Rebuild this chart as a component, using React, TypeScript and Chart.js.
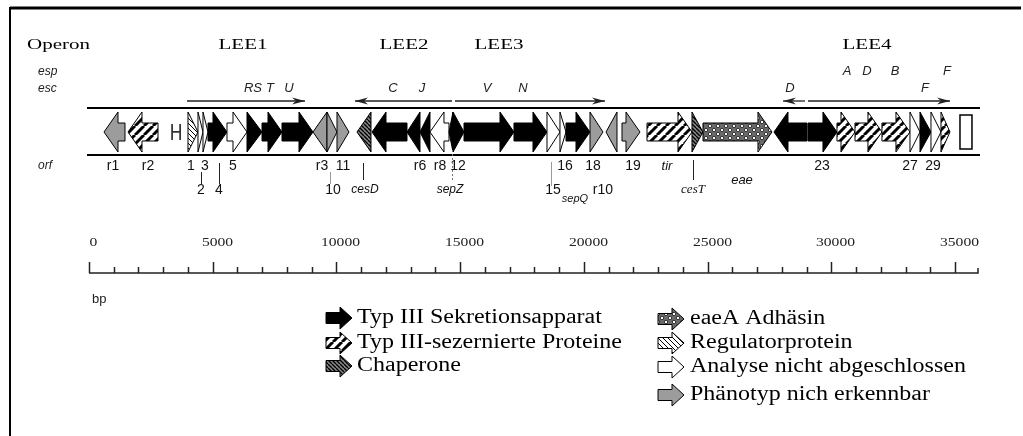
import React, { useEffect, useRef } from "react";
import { Chart, registerables } from "chart.js";
Chart.register(...registerables);

const W = 1023;
const H = 436;
const X_MIN = -3597;
const X_MAX = 37748;

// genes (bp)
const geneStart = [606, 1576, 4001, 4405, 4607, 4809, 5577, 6386, 6992, 7800, 9053, 9619, 10023, 10831, 11437, 12852, 13377, 13781, 14549, 14711, 15156, 17176, 18510, 19035, 19278, 20248, 20895, 21541, 22552, 24370, 24815, 27684, 29059, 30230, 30958, 32048, 33180, 33585, 34029, 34434, 35201];
const geneEnd = [1455, 2789, 4405, 4607, 4809, 5577, 6386, 6992, 7800, 9053, 9619, 10023, 10508, 11397, 12852, 13377, 13781, 14549, 14711, 15156, 17176, 18510, 19035, 19278, 20248, 20773, 21339, 22269, 24370, 24815, 27603, 29018, 30230, 30958, 32048, 33180, 33585, 34029, 34434, 34797, 35686];
const geneDir = [-1, -1, 1, 1, 1, 1, 1, 1, 1, 1, -1, 1, 1, -1, -1, -1, -1, -1, -1, 1, 1, 1, 1, 1, 1, 1, -1, 1, 1, 1, 1, -1, 1, 1, 1, 1, 1, 1, 1, 1, 0];
const geneKind = ["grey", "sec", "reg", "open", "open", "tx", "open", "tx", "tx", "tx", "grey", "grey", "grey", "chap", "tx", "tx", "tx", "open", "tx", "tx", "tx", "tx", "open", "open", "tx", "grey", "grey", "grey", "sec", "chap", "eae", "tx", "tx", "sec", "sec", "sec", "open", "tx", "open", "sec", "box"];

const hMarkPos = 3516;
const mapLineStart = -81;
const mapLineEnd = 36010;

// operons
const operonNames = ["LEE1", "LEE2", "LEE3", "LEE4"];
const operonCenter = [6224, 12731, 16570, 31443];
const operonArrowStart = [3961, 10750, 14792, 28048, 29059];
const operonArrowEnd = [8730, 14671, 20854, 28937, 34797];
const operonArrowDir = [1, -1, 1, -1, 1];

// gene name labels
const espLabels = ["A", "D", "B", "F"];
const espPos = [30634, 31443, 32574, 34676];
const escLabels = ["RS", "T", "U", "C", "J", "V", "N", "D", "F"];
const escPos = [6628, 7315, 8083, 12286, 13458, 16085, 17540, 28331, 33787];
const orfLabels = ["r1", "r2", "1", "3", "5", "r3", "11", "r6", "r8", "12", "16", "18", "19", "tir", "23", "27", "29"];
const orfPos = [970, 2384, 4122, 4688, 5820, 9417, 10265, 13377, 14186, 14913, 19238, 20369, 21986, 23360, 29624, 33181, 34110];
const orf2Labels = ["2", "4", "10", "cesD", "sepZ", "15", "sepQ", "r10", "cesT", "eae"];
const orf2Pos = [4526, 5254, 9861, 11155, 14590, 18753, 19642, 20773, 24411, 26391];
const leaderPos = [4526, 5254, 9740, 11074, 14671, 18672, 24411];

// ruler
const rulerMajor = [0, 5000, 10000, 15000, 20000, 25000, 30000, 35000];
const rulerMinor = [1000, 2000, 3000, 4000, 6000, 7000, 8000, 9000, 11000, 12000, 13000, 14000, 16000, 17000, 18000, 19000, 21000, 22000, 23000, 24000, 26000, 27000, 28000, 29000, 31000, 32000, 33000, 34000];
const rulerEnd = 35930;

// legend
const legendLeft = ["Typ III Sekretionsapparat", "Typ III-sezernierte Proteine", "Chaperone"];
const legendLeftKind = ["tx", "sec", "chap"];
const legendRight = ["eaeA Adhäsin", "Regulatorprotein", "Analyse nicht abgeschlossen", "Phänotyp nich erkennbar"];
const legendRightKind = ["eae", "reg", "open", "grey"];

function makePatterns() {
  const mk = (size: number, draw: (c: CanvasRenderingContext2D) => void) => {
    const cv = document.createElement("canvas");
    cv.width = size;
    cv.height = size;
    const c = cv.getContext("2d")!;
    draw(c);
    return c.createPattern(cv, "repeat")!;
  };
  const sec = mk(9, (c) => {
    c.fillStyle = "#fff";
    c.fillRect(0, 0, 9, 9);
    c.strokeStyle = "#000";
    c.lineWidth = 3;
    for (const k of [-9, 0, 9]) {
      c.beginPath();
      c.moveTo(k, 9);
      c.lineTo(k + 9, 0);
      c.stroke();
    }
  });
  const chap = mk(4, (c) => {
    c.fillStyle = "#8a8a8a";
    c.fillRect(0, 0, 4, 4);
    c.strokeStyle = "#000";
    c.lineWidth = 1.4;
    for (const k of [-4, 0, 4]) {
      c.beginPath();
      c.moveTo(k, 0);
      c.lineTo(k + 4, 4);
      c.stroke();
    }
  });
  const reg = mk(5, (c) => {
    c.fillStyle = "#fff";
    c.fillRect(0, 0, 5, 5);
    c.strokeStyle = "#000";
    c.lineWidth = 1;
    for (const k of [-5, 0, 5]) {
      c.beginPath();
      c.moveTo(k, 0);
      c.lineTo(k + 5, 5);
      c.stroke();
    }
  });
  const eae = mk(8, (c) => {
    c.fillStyle = "#6a6a6a";
    c.fillRect(0, 0, 8, 8);
    c.fillStyle = "#fff";
    c.strokeStyle = "#111";
    c.lineWidth = 0.8;
    for (const [px, py] of [[2, 2], [6, 6]]) {
      c.beginPath();
      c.arc(px, py, 1.7, 0, Math.PI * 2);
      c.fill();
      c.stroke();
    }
  });
  return { sec, chap, reg, eae };
}

function fillFor(kind: string, pats: any) {
  switch (kind) {
    case "tx": return "#000";
    case "open": return "#fff";
    case "grey": return "#9c9c9c";
    case "sec": return pats.sec;
    case "chap": return pats.chap;
    case "reg": return pats.reg;
    case "eae": return pats.eae;
    default: return "#fff";
  }
}

function drawArrowShape(ctx: CanvasRenderingContext2D, x0: number, x1: number, yc: number, dir: number, hh: number, bh: number, hl: number, fill: any) {
  const L = x1 - x0;
  ctx.beginPath();
  if (L <= hl + 3) {
    if (dir > 0) {
      ctx.moveTo(x0, yc - hh / 2);
      ctx.lineTo(x1, yc);
      ctx.lineTo(x0, yc + hh / 2);
    } else {
      ctx.moveTo(x1, yc - hh / 2);
      ctx.lineTo(x0, yc);
      ctx.lineTo(x1, yc + hh / 2);
    }
  } else if (dir > 0) {
    const xb = x1 - hl;
    ctx.moveTo(x0, yc - bh / 2);
    ctx.lineTo(xb, yc - bh / 2);
    ctx.lineTo(xb, yc - hh / 2);
    ctx.lineTo(x1, yc);
    ctx.lineTo(xb, yc + hh / 2);
    ctx.lineTo(xb, yc + bh / 2);
    ctx.lineTo(x0, yc + bh / 2);
  } else {
    const xb = x0 + hl;
    ctx.moveTo(x1, yc - bh / 2);
    ctx.lineTo(xb, yc - bh / 2);
    ctx.lineTo(xb, yc - hh / 2);
    ctx.lineTo(x0, yc);
    ctx.lineTo(xb, yc + hh / 2);
    ctx.lineTo(xb, yc + bh / 2);
    ctx.lineTo(x1, yc + bh / 2);
  }
  ctx.closePath();
  ctx.fillStyle = fill;
  ctx.fill();
  ctx.strokeStyle = "#000";
  ctx.lineWidth = 1;
  ctx.lineJoin = "miter";
  ctx.stroke();
}

function txt(ctx: CanvasRenderingContext2D, s: string, x: number, y: number, font: string, align: CanvasTextAlign = "center", sx = 1, color = "#111") {
  ctx.save();
  ctx.font = font;
  ctx.fillStyle = color;
  ctx.textBaseline = "middle";
  ctx.textAlign = align;
  ctx.translate(x, y);
  ctx.scale(sx, 1);
  ctx.fillText(s, 0, 0);
  ctx.restore();
}

export default function App() {
  const ref = useRef<HTMLCanvasElement>(null);
  useEffect(() => {
    const canvas = ref.current!;
    const pats = makePatterns();
    const plugin = {
      id: "genemap",
      beforeDraw(chart: any) {
        const ctx = chart.ctx;
        ctx.save();
        ctx.fillStyle = "#fff";
        ctx.fillRect(0, 0, chart.width, chart.height);
        ctx.restore();
      },
      afterDatasetsDraw(chart: any) {
        const ctx: CanvasRenderingContext2D = chart.ctx;
        const xs = chart.scales.x;
        ctx.save();
        ctx.strokeStyle = "#000";
        ctx.lineWidth = 2;
        const lx0 = xs.getPixelForValue(mapLineStart);
        const lx1 = xs.getPixelForValue(mapLineEnd);
        for (const yy of [108, 155]) {
          ctx.beginPath();
          ctx.moveTo(lx0, yy);
          ctx.lineTo(lx1, yy);
          ctx.stroke();
        }
        const meta = chart.getDatasetMeta(0);
        meta.data.forEach((el: any, i: number) => {
          const p = el.getProps(["x", "base", "y", "height"], true);
          const x0 = Math.min(p.x, p.base);
          const x1 = Math.max(p.x, p.base);
          const kind = geneKind[i];
          if (kind === "box") {
            ctx.fillStyle = "#fff";
            ctx.fillRect(x0, p.y - 17, x1 - x0, 34);
            ctx.strokeStyle = "#000";
            ctx.lineWidth = 1.5;
            ctx.strokeRect(x0, p.y - 17, x1 - x0, 34);
            return;
          }
          drawArrowShape(ctx, x0, x1, p.y, geneDir[i], p.height, 18, 14, fillFor(kind, pats));
        });
        txt(ctx, "H", xs.getPixelForValue(hMarkPos), 134, "22px 'DejaVu Sans'", "center", 0.8, "#333");
        ctx.restore();
      },
      afterDraw(chart: any) {
        const ctx: CanvasRenderingContext2D = chart.ctx;
        const xs = chart.scales.x;
        const px = (v: number) => xs.getPixelForValue(v);
        ctx.save();
        ctx.strokeStyle = "#000";
        ctx.lineWidth = 3;
        ctx.beginPath();
        ctx.moveTo(10, 8);
        ctx.lineTo(1021, 8);
        ctx.stroke();
        ctx.lineWidth = 2;
        ctx.beginPath();
        ctx.moveTo(10, 7);
        ctx.lineTo(10, H);
        ctx.stroke();

        const serifTitle = "15px 'Liberation Serif'";
        txt(ctx, "Operon", 27, 45, serifTitle, "left", 1.4, "#000");
        operonNames.forEach((n, i) => txt(ctx, n, px(operonCenter[i]), 45, serifTitle, "center", 1.4, "#000"));

        const it = "italic 12px 'Liberation Sans'";
        txt(ctx, "esp", 38, 72, it, "left", 1, "#222");
        txt(ctx, "esc", 38, 89, it, "left", 1, "#222");
        txt(ctx, "orf", 38, 166, it, "left", 1, "#222");

        espLabels.forEach((s, i) => txt(ctx, s, px(espPos[i]), 71, "italic 13px 'Liberation Sans'", "center", 1, "#222"));
        escLabels.forEach((s, i) => txt(ctx, s, px(escPos[i]), 88, "italic 13px 'Liberation Sans'", "center", 1, "#222"));

        ctx.strokeStyle = "#222";
        ctx.fillStyle = "#222";
        ctx.lineWidth = 1.3;
        operonArrowStart.forEach((s, i) => {
          const a = px(s);
          const b = px(operonArrowEnd[i]);
          const y = 101;
          ctx.beginPath();
          ctx.moveTo(a, y);
          ctx.lineTo(b, y);
          ctx.stroke();
          const tip = operonArrowDir[i] > 0 ? b : a;
          const d = operonArrowDir[i];
          ctx.beginPath();
          ctx.moveTo(tip, y);
          ctx.lineTo(tip - d * 13, y - 3.5);
          ctx.lineTo(tip - d * 9, y);
          ctx.lineTo(tip - d * 13, y + 3.5);
          ctx.closePath();
          ctx.fill();
        });

        const num = "14px 'Liberation Sans'";
        orfLabels.forEach((s, i) => {
          const f = s === "tir" ? "italic 13px 'Liberation Sans'" : num;
          txt(ctx, s, px(orfPos[i]), 166, f, "center", 1, "#111");
        });
        orf2Labels.forEach((s, i) => {
          let f = num;
          let y = 190;
          if (s === "cesD" || s === "sepZ") f = "italic 12px 'Liberation Sans'";
          if (s === "cesT") f = "italic 13px 'Liberation Serif'";
          if (s === "eae") { f = "italic 13px 'Liberation Sans'"; y = 180; }
          if (s === "sepQ") { f = "italic 11px 'Liberation Sans'"; y = 199; }
          txt(ctx, s, px(orf2Pos[i]), y, f, "center", 1, "#111");
        });
        const leaderY = [[172, 184], [163, 184], [172, 184], [163, 180], [150, 182], [162, 186], [160, 180]];
        leaderPos.forEach((v, i) => {
          const x = Math.round(px(v)) + 0.5;
          ctx.strokeStyle = i === 2 || i === 5 ? "#999" : i === 4 ? "#777" : "#222";
          ctx.lineWidth = 1;
          ctx.setLineDash(i === 4 ? [2, 2] : []);
          ctx.beginPath();
          ctx.moveTo(x, leaderY[i][0]);
          ctx.lineTo(x, leaderY[i][1]);
          ctx.stroke();
        });
        ctx.setLineDash([]);

        const base = 273;
        ctx.strokeStyle = "#222";
        ctx.lineWidth = 1.5;
        ctx.beginPath();
        ctx.moveTo(px(0), base);
        ctx.lineTo(px(rulerEnd), base);
        ctx.lineTo(px(rulerEnd), base - 5);
        ctx.stroke();
        rulerMajor.forEach((v) => {
          const x = Math.round(px(v)) + 0.5;
          ctx.beginPath();
          ctx.moveTo(x, base);
          ctx.lineTo(x, base - 11);
          ctx.stroke();
          txt(ctx, String(v), x + 4, 243, "12px 'Liberation Serif'", "center", 1.3, "#222");
        });
        rulerMinor.forEach((v) => {
          const x = Math.round(px(v)) + 0.5;
          ctx.beginPath();
          ctx.moveTo(x, base);
          ctx.lineTo(x, base - 6);
          ctx.stroke();
        });
        txt(ctx, "bp", 92, 299, "13px 'Liberation Sans'", "left", 1, "#222");

        const lf = "20px 'Liberation Serif'";
        const leftY = [318, 343, 366];
        legendLeft.forEach((s, i) => {
          drawArrowShape(ctx, 326, 352, leftY[i], 1, 22, 11, 12, fillFor(legendLeftKind[i], pats));
          txt(ctx, s, 357, leftY[i], lf, "left", 1.2, "#000");
        });
        const rightY = [319, 343, 367, 395];
        legendRight.forEach((s, i) => {
          drawArrowShape(ctx, 658, 684, rightY[i], 1, 22, 11, 12, fillFor(legendRightKind[i], pats));
          txt(ctx, s, 690, rightY[i], lf, "left", 1.2, "#000");
        });
        ctx.restore();
      },
    };

    const chart = new Chart(canvas, {
      type: "bar",
      data: {
        labels: ["orf"],
        datasets: [
          {
            data: geneStart.map((s, i) => ({ x: [s, geneEnd[i]], y: "orf" })) as any,
            backgroundColor: "rgba(0,0,0,0)",
            borderWidth: 0,
            barThickness: 40,
            grouped: false,
          } as any,
        ],
      },
      options: {
        indexAxis: "y",
        responsive: false,
        animation: false,
        devicePixelRatio: 1,
        layout: { padding: { top: 112, bottom: H - 152, left: 0, right: 0 } },
        scales: {
          x: { type: "linear", min: X_MIN, max: X_MAX, display: false },
          y: { type: "category", display: false },
        },
        plugins: { legend: { display: false }, tooltip: { enabled: false } },
      },
      plugins: [plugin],
    });
    return () => chart.destroy();
  }, []);
  return (
    <div style={{ position: "fixed", left: 0, top: 0, width: W, height: H, background: "#fff" }}>
      <canvas ref={ref} width={W} height={H} style={{ display: "block", width: W, height: H }} />
    </div>
  );
}
